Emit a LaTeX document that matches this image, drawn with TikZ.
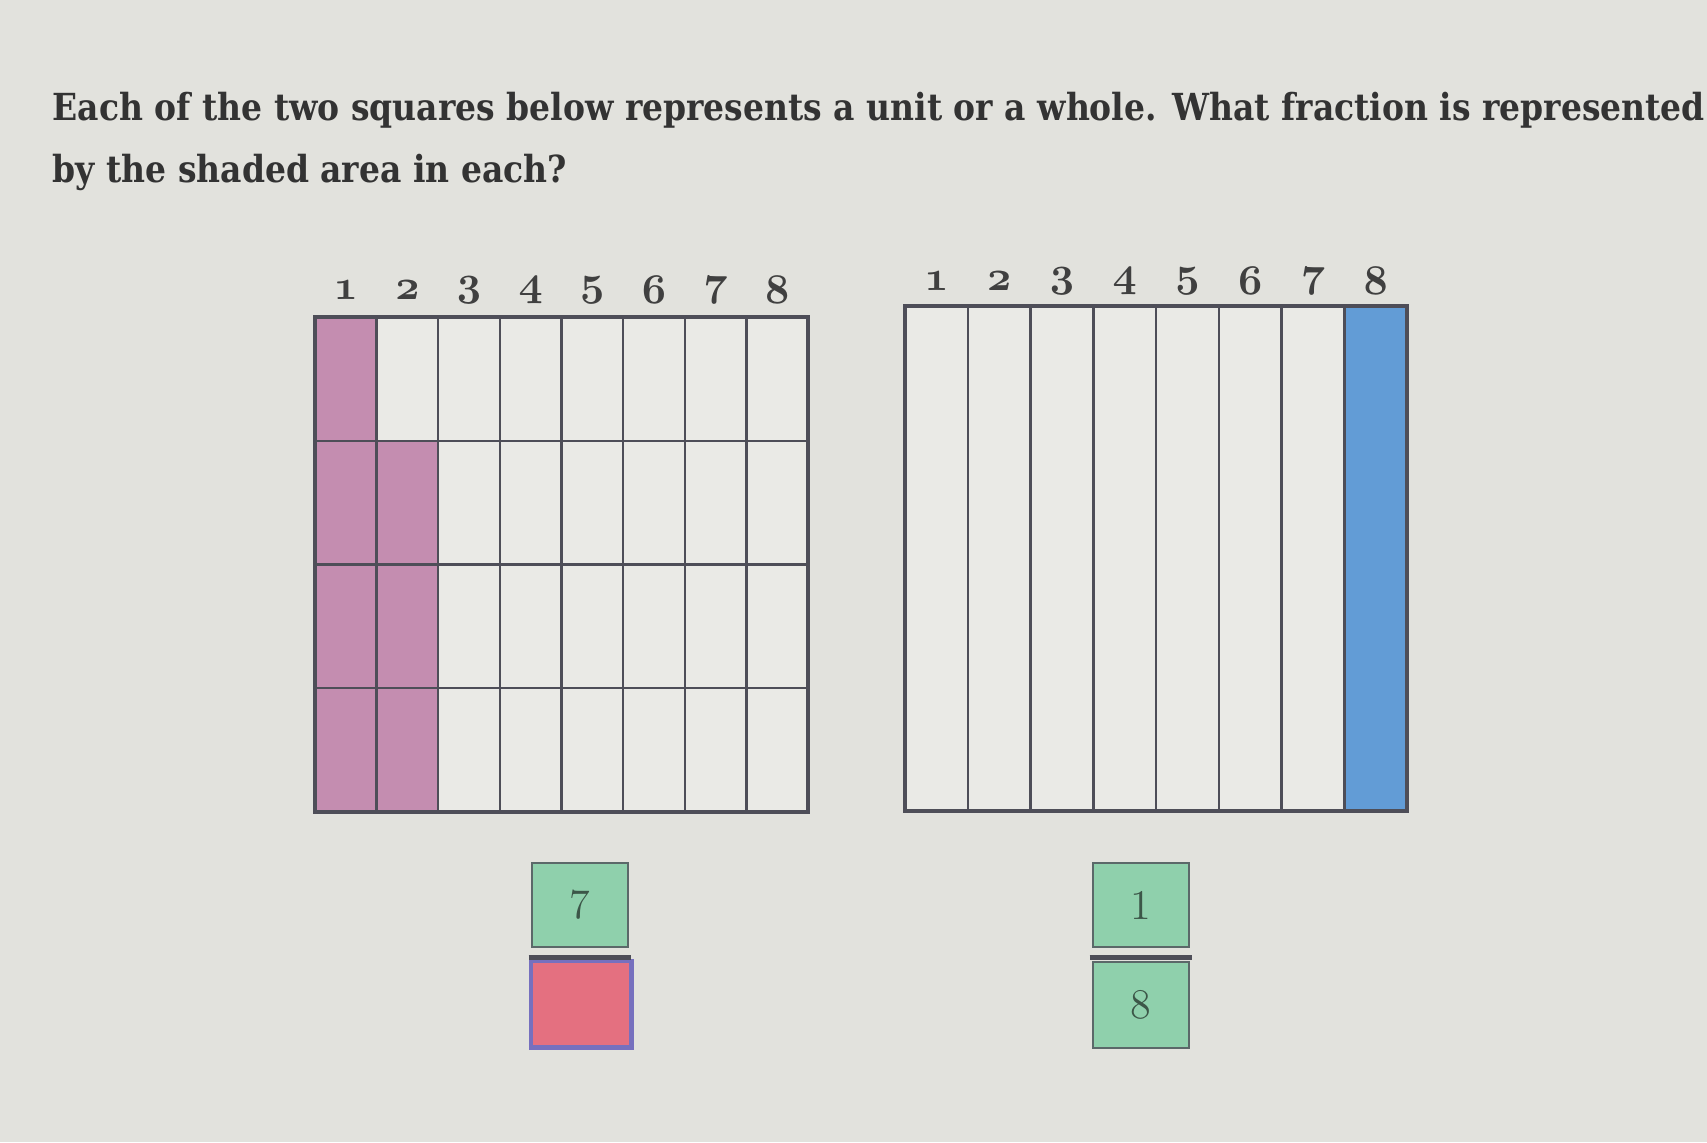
\documentclass[tikz,border=0pt]{standalone}
\usepackage{fontspec}
\usetikzlibrary{positioning,calc}
\newfontfamily\headfont[FakeStretch=0.885]{DejaVu Serif}
\definecolor{bgcol}{RGB}{226,226,221}
\definecolor{cellcol}{RGB}{234,234,230}
\definecolor{pinkcol}{RGB}{196,141,176}
\definecolor{bluecol}{RGB}{98,156,214}
\definecolor{boxgreen}{RGB}{143,208,172}
\definecolor{boxred}{RGB}{228,112,128}
\definecolor{boxedge}{RGB}{118,112,190}
\definecolor{linecol}{RGB}{78,78,88}
\definecolor{digitcol}{RGB}{60,86,72}
\tikzset{
  qtext/.style={anchor=base west, inner sep=0pt, text=black!80,
    font=\headfont\bfseries\fontsize{10.6}{13}\selectfont},
  colnum/.style={text=black!75, font=\fontsize{12}{14}\selectfont\boldmath},
  gridline/.style={draw=linecol, line width=0.7pt},
  frameline/.style={draw=linecol, line width=1.2pt},
  numbox/.style={draw=linecol!80!boxgreen, line width=0.8pt, fill=boxgreen,
    minimum width=0.96cm, minimum height=0.84cm, inner sep=0pt,
    text=digitcol, font=\fontsize{12}{14}\selectfont},
  fracbar/.style={draw=linecol, line width=1.6pt},
}

\begin{document}
\begin{tikzpicture}[x=0.01cm,y=-0.01cm]
  % page
  \fill[bgcol] (0,0) rectangle (1707,1142);
  \useasboundingbox (0,0) rectangle (1707,1142);

  % question
  \node[qtext] (qline1) at (52,120) {Each of the two squares below represents a unit or a whole. What fraction is represented};
  \node[qtext] (qline2) at ($(qline1.base west)+(0,62)$) {by the shaded area in each?};

  % left square: 8 columns, 4 rows
  \def\Lw{493}
  \def\Lh{495}
  \coordinate (L) at (315,317);
  \fill[cellcol] (L) rectangle ++(\Lw,\Lh);
  \fill[pinkcol] (L) rectangle ++(\Lw/8,\Lh);
  \fill[pinkcol] ($(L)+(\Lw/8,\Lh/4)$) rectangle ++(\Lw/8,3*\Lh/4);
  \foreach \i in {1,...,7}
    \draw[gridline] ($(L)+(\i*\Lw/8,0)$) -- ++(0,\Lh);
  \foreach \j in {1,2,3}
    \draw[gridline] ($(L)+(0,\j*\Lh/4)$) -- ++(\Lw,0);
  \draw[frameline] (L) rectangle ++(\Lw,\Lh);
  \foreach \i in {1,...,8}
    \node[colnum] (lcol\i) at ($(L)+(\i*\Lw/8-\Lw/16,-27)$) {$\mathnormal{\i}$};

  % right square: 8 columns
  \def\Rw{502}
  \def\Rh{505}
  \coordinate (R) at (905,306);
  \fill[cellcol] (R) rectangle ++(\Rw,\Rh);
  \fill[bluecol] ($(R)+(7*\Rw/8,0)$) rectangle ++(\Rw/8,\Rh);
  \foreach \i in {1,...,7}
    \draw[gridline] ($(R)+(\i*\Rw/8,0)$) -- ++(0,\Rh);
  \draw[frameline] (R) rectangle ++(\Rw,\Rh);
  \foreach \i in {1,...,8}
    \node[colnum] (rcol\i) at ($(R)+(\i*\Rw/8-\Rw/16,-25)$) {$\mathnormal{\i}$};

  % answer boxes
  \node[numbox] (lnumer) at (580,905) {7};
  \node[numbox, fill=boxred, draw=boxedge, line width=1.4pt,
    minimum width=1cm, minimum height=0.86cm] (ldenom) at (581,1004) {};
  \draw[fracbar] ($(lnumer.south west)+(-2,9)$) -- ($(lnumer.south east)+(2,9)$);

  \node[numbox] (rnumer) at (1141,905) {1};
  \node[numbox, minimum height=0.86cm] (rdenom) at (1141,1005) {8};
  \draw[fracbar] ($(rnumer.south west)+(-2,9)$) -- ($(rnumer.south east)+(2,9)$);
\end{tikzpicture}
\end{document}
